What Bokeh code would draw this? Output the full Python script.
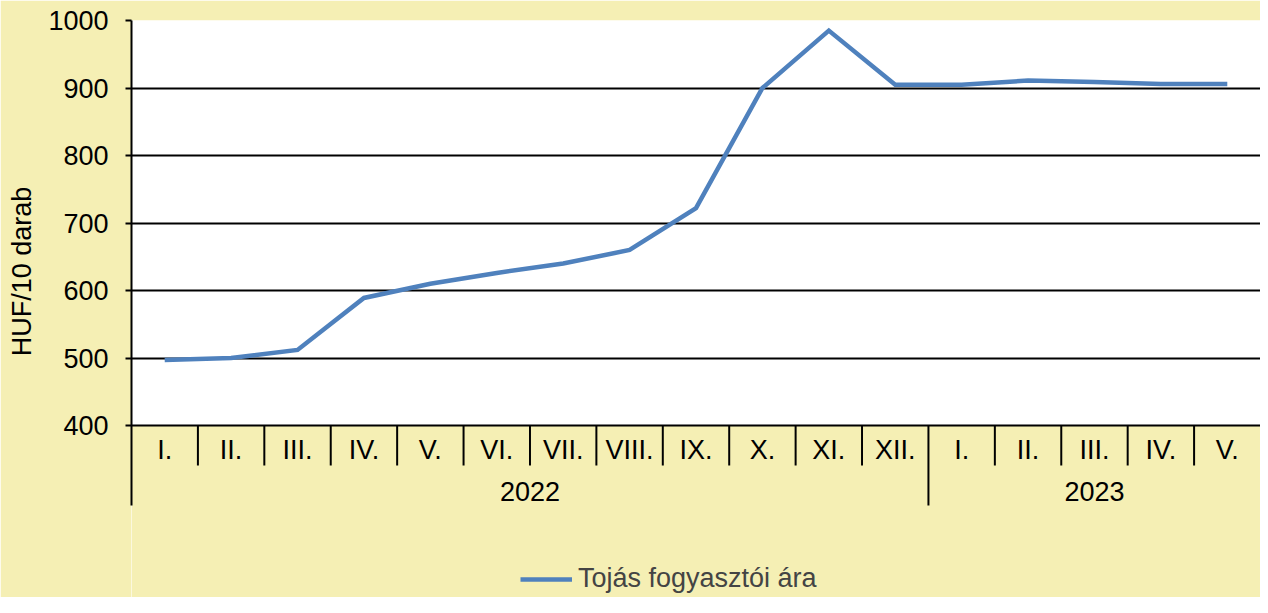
from bokeh.plotting import figure
from bokeh.models import Range1d, FixedTicker, Legend, LegendItem
from bokeh.embed import file_html
from bokeh.resources import INLINE
from bokeh.core.properties import value

# ---- data ----
months = ["I.", "II.", "III.", "IV.", "V.", "VI.", "VII.", "VIII.", "IX.", "X.", "XI.", "XII.",
          "I.", "II.", "III.", "IV.", "V."]
years = ["2022", "2023"]
year_counts = [12, 5]
prices = [497, 500, 512, 589, 610, 626, 640, 660, 722, 900, 985, 905, 905, 911, 909, 906, 906]
series_name = "Tojás fogyasztói ára"
y_ticks = [400, 500, 600, 700, 800, 900, 1000]
y_label = "HUF/10 darab"

# ---- layout / style ----
W, H = 1260, 597
LEFT, TOP = 131, 20
PLOT_PX = 405.0  # pixel height of 400..1000
FONT = value("Liberation Sans")
FS = "27px"
BG = "#F5EFB4"
LINE = "#4F81BD"

ymin, ymax = y_ticks[0], y_ticks[-1]
ppu = PLOT_PX / (ymax - ymin)
frame_h = H - TOP
y_start = ymax - frame_h / ppu


def below(px):
    return ymin - px / ppu


n = len(months)

p = figure(width=W, height=H, output_backend="svg", toolbar_location=None,
           x_range=Range1d(0, n), y_range=Range1d(y_start, ymax),
           x_axis_location=None, min_border_left=LEFT, min_border_top=TOP,
           min_border_right=0, min_border_bottom=0)
p.background_fill_color = "white"
p.border_fill_color = BG
p.outline_line_color = None

# yellow area below the plot
p.quad(left=[0], right=[n], bottom=[y_start], top=[ymin], fill_color=BG, line_color=None)

# grid
p.xgrid.visible = False
p.ygrid.ticker = FixedTicker(ticks=y_ticks[1:])
p.ygrid.grid_line_color = "black"
p.ygrid.grid_line_width = 2

# x axis line
p.segment(x0=[0], x1=[n], y0=[ymin], y1=[ymin], line_color="black", line_width=2)

# month separators
xs_m = [k for k in range(1, n) if k != year_counts[0]]
p.segment(x0=xs_m, x1=xs_m, y0=[ymin] * len(xs_m), y1=[below(40)] * len(xs_m),
          line_color="black", line_width=2)
xs_y = [year_counts[0]]
p.segment(x0=xs_y, x1=xs_y, y0=[ymin], y1=[below(80)], line_color="black", line_width=2)

# month labels
p.text(x=[i + 0.5 for i in range(n)], y=[below(24)] * n, text=months,
       text_align="center", text_baseline="middle", text_font=FONT,
       text_font_size=FS, text_color="black")
# year labels
yc = []
s = 0
for c in year_counts:
    yc.append(s + c / 2)
    s += c
p.text(x=yc, y=[below(66)] * len(years), text=years,
       text_align="center", text_baseline="middle", text_font=FONT,
       text_font_size=FS, text_color="black")

# series
r = p.line(x=[i + 0.5 for i in range(n)], y=prices, line_color=LINE, line_width=4.5,
           line_join="miter")

# y axis
ax = p.yaxis[0]
ax.ticker = FixedTicker(ticks=y_ticks)
ax.bounds = (below(80), ymax)
ax.axis_line_width = 2
ax.major_tick_line_width = 2
ax.major_tick_out = 6
ax.major_tick_in = 0
ax.minor_tick_line_color = None
ax.major_label_standoff = 17
ax.major_label_text_font = "Liberation Sans"
ax.major_label_text_font_size = FS
ax.major_label_text_color = "black"
# the axis title is centred on the whole frame; leading no-break spaces lift it
# to the middle of the drawn axis line, as in the reference
pad = "\u00a0" * 10
ax.axis_label = pad + y_label
ax.axis_label_text_font = "Liberation Sans"
ax.axis_label_text_font_size = FS
ax.axis_label_text_font_style = "normal"
ax.axis_label_text_color = "black"
ax.axis_label_standoff = 8

legend = Legend(items=[LegendItem(label=series_name, renderers=[r])],
                location=(520 - LEFT, 3), padding=0, margin=0,
                glyph_width=52, glyph_height=18, label_height=18, label_standoff=6,
                label_text_font="Liberation Sans", label_text_font_size=FS,
                border_line_color=None, background_fill_alpha=0)
p.add_layout(legend)

open("out.html", "w").write(file_html(p, INLINE))
